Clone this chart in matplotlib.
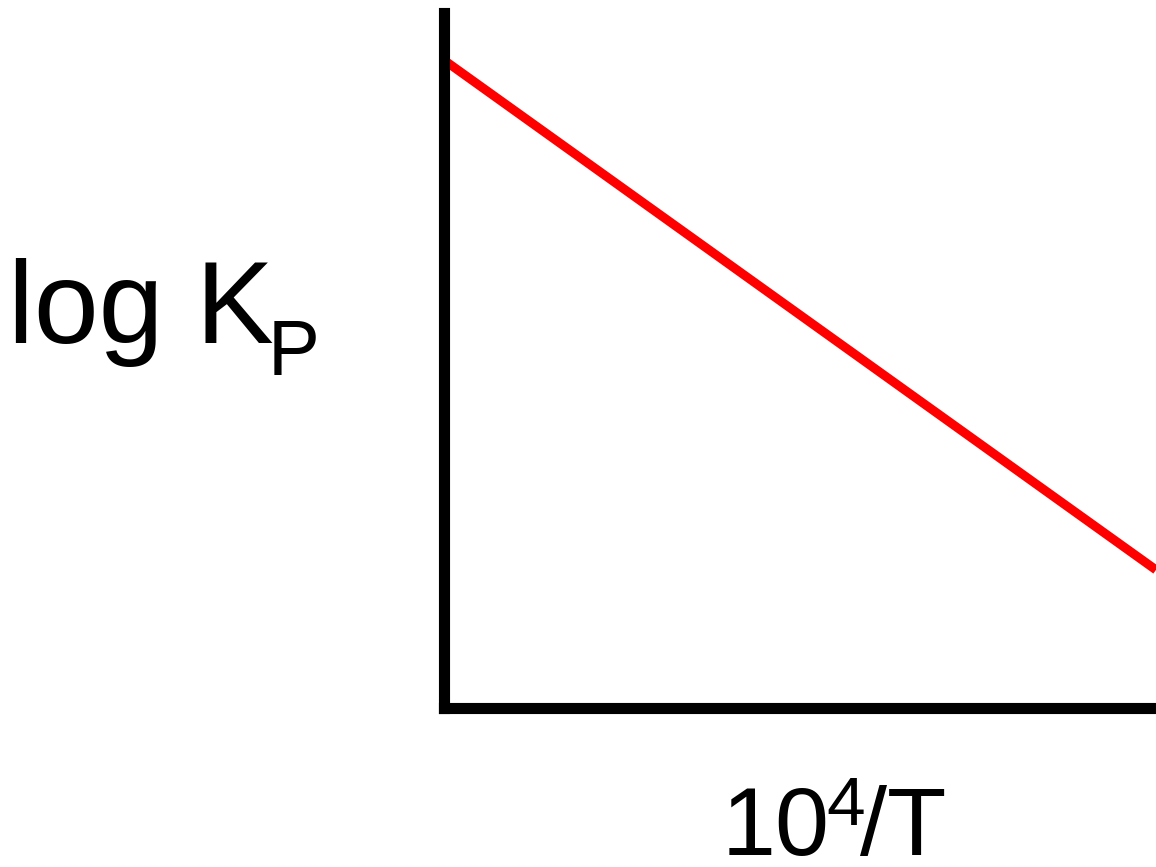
import matplotlib
matplotlib.use("Agg")
import matplotlib.pyplot as plt

# schematic van 't Hoff plot: log Kp falls linearly with 10^4/T
inv_T = [0.0, 1.0]
log_kp = [0.932, 0.198]

W, H = 1156, 867
plt.rcParams['font.family'] = ['Liberation Sans', 'DejaVu Sans']

fig = plt.figure(figsize=(W / 100, H / 100), dpi=100)
ax = fig.add_axes([443.5 / W, (H - 707.5) / H, (W - 443.5) / W, 695 / H])

ax.plot(inv_T, log_kp, color='#ff0000', lw=6.5, solid_capstyle='butt', clip_on=False)
ax.set_xlim(0, 1)
ax.set_ylim(0, 1)

for s in ['top', 'right']:
    ax.spines[s].set_visible(False)
for s in ['left', 'bottom']:
    ax.spines[s].set_linewidth(8)
    ax.spines[s].set_color('black')
    ax.spines[s].set_capstyle('projecting')
ax.set_xticks([])
ax.set_yticks([])


def px(x, y):
    return x / W, 1 - y / H


# y label: log K with subscript P
fig.text(*px(8, 343), 'log K', fontsize=84, va='baseline', ha='left')
fig.text(*px(268, 375), 'P', fontsize=56, va='baseline', ha='left')

# x label: 10^4/T
fig.text(*px(722, 855), '10', fontsize=70, va='baseline', ha='left')
fig.text(*px(826, 825), '4', fontsize=50, va='baseline', ha='left')
fig.text(*px(860, 855), '/T', fontsize=70, va='baseline', ha='left')

fig.savefig('out.png', dpi=100)
